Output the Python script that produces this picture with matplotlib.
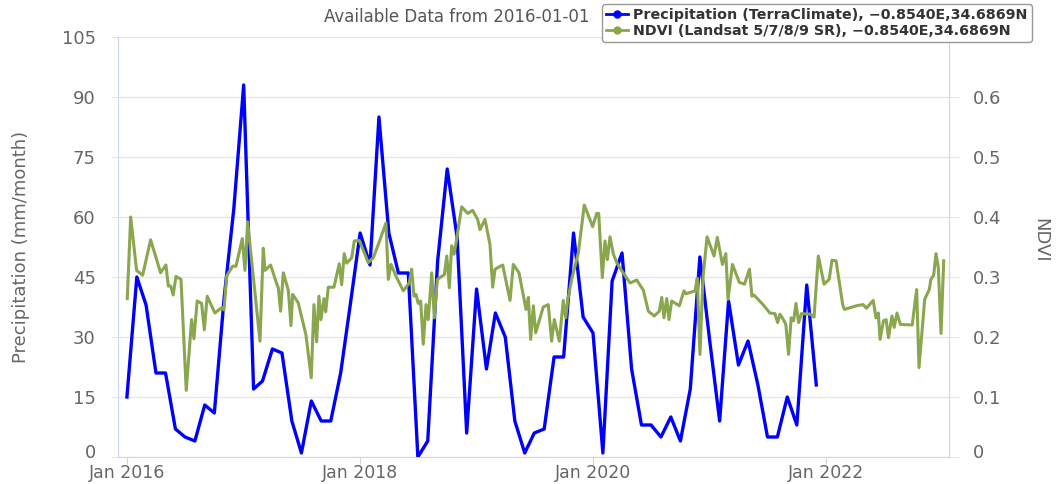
import numpy as np
import pandas as pd
import matplotlib
matplotlib.use("Agg")
import matplotlib.pyplot as plt
import matplotlib.transforms as mtransforms
from matplotlib.lines import Line2D

# Monthly precipitation (TerraClimate), Jan 2016 - Dec 2021
precip = [
    15, 45, 38, 21, 21, 7, 5, 4, 13, 11, 40, 62,
    93, 17, 19, 27, 26, 9, 1, 14, 9, 9, 21, 38,
    56, 48, 85, 56, 46, 46, 0, 4, 49, 72, 55, 6,
    42, 22, 36, 30, 9, 1, 6, 7, 25, 25, 56, 35,
    31, 1, 44, 51, 22, 8, 8, 5, 10, 4, 17, 50,
    29, 9, 39, 23, 29, 18, 5, 5, 15, 8, 43, 18,
]

# Landsat NDVI scenes (decimal year) and values
ndvi_year = [
    2016.003, 2016.032, 2016.083, 2016.135, 2016.203, 2016.289, 2016.335, 2016.355, 2016.375,
    2016.397, 2016.421, 2016.464, 2016.509, 2016.555, 2016.575, 2016.603, 2016.641, 2016.664,
    2016.689, 2016.755, 2016.813, 2016.833, 2016.856, 2016.907, 2016.936, 2016.990,
    2017.013, 2017.036, 2017.056, 2017.142, 2017.170, 2017.185, 2017.233, 2017.285, 2017.299,
    2017.319, 2017.342, 2017.385, 2017.408, 2017.422, 2017.470, 2017.536, 2017.582, 2017.605,
    2017.628, 2017.648, 2017.665, 2017.691, 2017.706, 2017.728, 2017.777, 2017.822, 2017.843,
    2017.865, 2017.886, 2017.929, 2017.951, 2017.994,
    2018.071, 2018.114, 2018.157, 2018.223, 2018.243, 2018.266, 2018.315, 2018.372, 2018.423,
    2018.444, 2018.464, 2018.481, 2018.500, 2018.521, 2018.543, 2018.567, 2018.586, 2018.616,
    2018.638, 2018.664, 2018.724, 2018.745, 2018.767, 2018.787, 2018.807, 2018.824, 2018.873,
    2018.925, 2018.967,
    2019.010, 2019.030, 2019.073, 2019.116, 2019.139, 2019.159, 2019.225, 2019.288, 2019.316,
    2019.365, 2019.425, 2019.445, 2019.465, 2019.488, 2019.508, 2019.573, 2019.616, 2019.645,
    2019.668, 2019.711, 2019.745, 2019.766, 2019.783, 2019.817, 2019.874, 2019.925, 2019.997,
    2020.032, 2020.049, 2020.080, 2020.103, 2020.123, 2020.146, 2020.175, 2020.204, 2020.238,
    2020.318, 2020.375, 2020.432, 2020.475, 2020.526, 2020.569, 2020.590, 2020.609, 2020.633,
    2020.652, 2020.675, 2020.741, 2020.781, 2020.798, 2020.876, 2020.895, 2020.918, 2020.944,
    2020.979,
    2021.039, 2021.067, 2021.111, 2021.140, 2021.159, 2021.197, 2021.256, 2021.300, 2021.343,
    2021.364, 2021.381, 2021.459, 2021.518, 2021.561, 2021.585, 2021.605, 2021.634, 2021.655,
    2021.678, 2021.701, 2021.722, 2021.742, 2021.765, 2021.789, 2021.867, 2021.897, 2021.934,
    2021.983,
    2022.027, 2022.051, 2022.086, 2022.143, 2022.158, 2022.260, 2022.318, 2022.347, 2022.405,
    2022.429, 2022.449, 2022.464, 2022.493, 2022.516, 2022.536, 2022.566, 2022.585, 2022.609,
    2022.638, 2022.740, 2022.760, 2022.778, 2022.798, 2022.847, 2022.886, 2022.900, 2022.924,
    2022.944, 2022.964, 2022.987, 2023.010,
]
ndvi = [
    0.264, 0.400, 0.311, 0.303, 0.362, 0.307, 0.320, 0.285, 0.285,
    0.270, 0.301, 0.296, 0.111, 0.229, 0.197, 0.260, 0.256, 0.212,
    0.268, 0.240, 0.249, 0.245, 0.302, 0.318, 0.318, 0.364,
    0.311, 0.392, 0.354, 0.193, 0.348, 0.311, 0.320, 0.289, 0.282,
    0.243, 0.307, 0.278, 0.219, 0.271, 0.257, 0.204, 0.132, 0.254,
    0.192, 0.268, 0.229, 0.264, 0.242, 0.283, 0.283, 0.322, 0.287,
    0.339, 0.323, 0.332, 0.360, 0.361,
    0.324, 0.332, 0.354, 0.390, 0.296, 0.321, 0.299, 0.277, 0.290,
    0.313, 0.268, 0.271, 0.256, 0.260, 0.188, 0.254, 0.229, 0.307,
    0.232, 0.296, 0.304, 0.335, 0.282, 0.352, 0.338, 0.356, 0.417,
    0.406, 0.411,
    0.396, 0.379, 0.396, 0.354, 0.283, 0.313, 0.320, 0.261, 0.321,
    0.307, 0.246, 0.266, 0.196, 0.252, 0.207, 0.250, 0.254, 0.193,
    0.229, 0.193, 0.261, 0.232, 0.261, 0.296, 0.340, 0.420, 0.384,
    0.406, 0.406, 0.299, 0.360, 0.329, 0.367, 0.338, 0.324, 0.313,
    0.290, 0.295, 0.278, 0.243, 0.235, 0.243, 0.266, 0.232, 0.264,
    0.229, 0.260, 0.252, 0.277, 0.272, 0.277, 0.298, 0.171, 0.299,
    0.367,
    0.335, 0.366, 0.321, 0.339, 0.263, 0.321, 0.291, 0.288, 0.313,
    0.268, 0.270, 0.254, 0.240, 0.239, 0.224, 0.238, 0.229, 0.221,
    0.171, 0.232, 0.227, 0.256, 0.224, 0.239, 0.238, 0.233, 0.335,
    0.288,
    0.296, 0.328, 0.327, 0.254, 0.246, 0.252, 0.254, 0.248, 0.261,
    0.232, 0.240, 0.196, 0.227, 0.229, 0.199, 0.235, 0.216, 0.240,
    0.221, 0.220, 0.252, 0.279, 0.149, 0.263, 0.279, 0.296, 0.303,
    0.339, 0.315, 0.206, 0.327,
]

left_ticks = [0, 15, 30, 45, 60, 75, 90, 105]
right_ticks = [0, 0.1, 0.2, 0.3, 0.4, 0.5, 0.6]
right_labels = ["0", "0.1", "0.2", "0.3", "0.4", "0.5", "0.6"]
x_tick_dates = ["2016-01-01", "2018-01-01", "2020-01-01", "2022-01-01"]

precip_dates = pd.date_range("2016-01-01", periods=len(precip), freq="MS")
base = pd.Timestamp("2016-01-01")
ndvi_dates = base + pd.to_timedelta((np.array(ndvi_year) - 2016) * 365.25, unit="D")

W, H = 1057, 484
fig = plt.figure(figsize=(W / 100, H / 100), dpi=100)
ax = fig.add_axes([118 / W, 1 - 457 / H, (949 - 118) / W, (457 - 37) / H])
ax2 = ax.twinx()

ax.plot(precip_dates, precip, color="#0000ff", lw=2.4, zorder=3)
ax2.plot(ndvi_dates, ndvi, color="#8aa64e", lw=2.2, zorder=3)

ax.set_ylim(0, 105)
ax2.set_ylim(0, 0.7)
ax.set_xlim(pd.Timestamp("2015-12-04"), pd.Timestamp("2023-01-21"))

ax.set_yticks(left_ticks)
ax.set_yticklabels([str(t) for t in left_ticks])
ax2.set_yticks(right_ticks)
ax2.set_yticklabels(right_labels)
ax.set_xticks(pd.to_datetime(x_tick_dates))
ax.set_xticklabels([pd.Timestamp(d).strftime("%b %Y") for d in x_tick_dates])

ax.yaxis.grid(True, color="#e6e6e6", lw=1)
ax.set_axisbelow(True)

axis_col = "#ccd6eb"
for a in (ax, ax2):
    a.spines["top"].set_visible(False)
ax.spines["right"].set_visible(False)
ax2.spines["left"].set_visible(False)
ax2.spines["bottom"].set_visible(False)
ax.spines["left"].set_color(axis_col)
ax.spines["bottom"].set_color(axis_col)
ax2.spines["right"].set_color(axis_col)

ax.tick_params(axis="y", length=5, color="#e6e6e6", labelcolor="#666666",
               labelsize=13, pad=11)
ax2.tick_params(axis="y", length=7, color="#e6e6e6", labelcolor="#666666",
                labelsize=13, pad=10)
ax.tick_params(axis="x", length=5, color=axis_col, labelcolor="#666666",
               labelsize=12.5, pad=0)

# lift the zero labels a little so they clear the date labels
lift = mtransforms.ScaledTranslation(0, 4 / 72, fig.dpi_scale_trans)
for lab in (ax.get_yticklabels()[0], ax2.get_yticklabels()[0]):
    lab.set_transform(lab.get_transform() + lift)

fig.text(21 / W, 1 - 247 / H, "Precipitation (mm/month)", rotation=90,
         ha="center", va="center", fontsize=13, color="#666666")
fig.text(1040 / W, 1 - 240 / H, "NDVI", rotation=270,
         ha="center", va="center", fontsize=13, color="#666666")

fig.text(324 / W, 1 - 17 / H, "Available Data from 2016-01-01",
         ha="left", va="center", fontsize=12, color="#555555")

handles = [
    Line2D([0], [0], color="#0000ff", lw=2, marker="o", markersize=5),
    Line2D([0], [0], color="#8aa64e", lw=2, marker="o", markersize=5),
]
labels = [
    "Precipitation (TerraClimate), \u22120.8540E,34.6869N",
    "NDVI (Landsat 5/7/8/9 SR), \u22120.8540E,34.6869N",
]
leg = fig.legend(handles, labels, loc="upper left",
                 bbox_to_anchor=(602 / W, 1 - 4 / H), borderaxespad=0,
                 prop={"size": 10.3, "weight": "bold"}, labelcolor="#333333",
                 frameon=True, fancybox=True, framealpha=1, edgecolor="#999999",
                 handlelength=1.5, handletextpad=0.4, borderpad=0.3,
                 labelspacing=0.1)
leg.set_zorder(10)

fig.savefig("out.png", dpi=100)
